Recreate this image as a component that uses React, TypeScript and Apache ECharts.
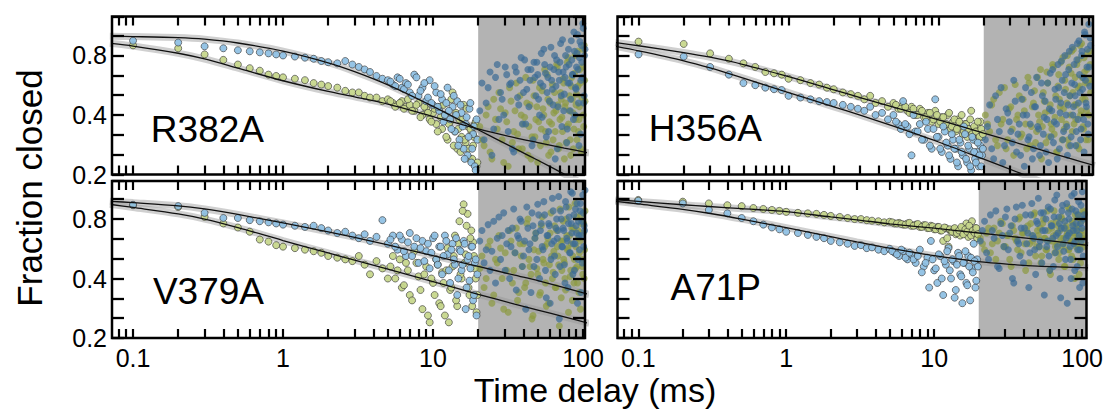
import React, { useEffect, useRef } from 'react';
import * as echarts from 'echarts';

// ---------- data (times in ms, values = fraction closed) ----------
const T_FAST = [0.1, 0.2, 0.3, 0.4, 0.5, 0.6, 0.7, 0.8, 0.9, 1.0, 1.2, 1.4, 1.6, 1.8, 2.0, 2.3, 2.6, 2.9, 3.2, 3.5, 3.8, 4.2, 4.6, 5.0, 5.4, 5.8, 6.2, 6.6, 7.0, 7.5, 8.0, 8.5, 9.0, 9.5, 10, 10.5, 11, 11.5, 12, 12.5, 13, 13.5, 14, 14.5, 15, 15.5, 16, 16.5, 17, 17.5, 18, 18.5, 19, 19.5];
const T_MID = [5.2, 5.6, 6.0, 6.4, 6.8, 7.25, 7.75, 8.25, 8.75, 9.25, 9.75, 10.25, 10.75, 11.25, 11.75, 12.25, 12.75, 13.25, 13.75, 14.25, 14.75, 15.25, 15.75, 16.25, 16.75, 17.25, 17.75, 18.25, 18.75, 19.25, 19.75];
const T_SLOW = [20.5, 21.9, 23.3, 24.7, 26.1, 27.5, 28.9, 30.3, 31.7, 33.1, 34.5, 35.9, 37.3, 38.7, 40.1, 41.5, 42.9, 44.3, 45.7, 47.1, 48.5, 49.9, 51.3, 52.7, 54.1, 55.5, 56.9, 58.3, 59.7, 61.1, 62.5, 63.9, 65.3, 66.7, 68.1, 69.5, 70.9, 72.3, 73.7, 75.1, 76.5, 77.9, 79.3, 80.7, 82.1, 83.5, 84.9, 86.3, 87.7, 89.1, 90.5, 91.9, 93.3, 94.7, 96.1, 97.5, 98.9, 100.3, 101.7, 103.1];
const T_SLOW2 = [21.2, 22.6, 24.0, 25.4, 26.8, 28.2, 29.6, 31.0, 32.4, 33.8, 35.2, 36.6, 38.0, 39.4, 40.8, 42.2, 43.6, 45.0, 46.4, 47.8, 49.2, 50.6, 52.0, 53.4, 54.8, 56.2, 57.6, 59.0, 60.4, 61.8, 63.2, 64.6, 66.0, 67.4, 68.8, 70.2, 71.6, 73.0, 74.4, 75.8, 77.2, 78.6, 80.0, 81.4, 82.8, 84.2, 85.6, 87.0, 88.4, 89.8, 91.2, 92.6, 94.0, 95.4, 96.8, 98.2, 99.6, 101.0, 102.4];
const FIT_T = [0.07, 0.1, 0.2, 0.3, 0.5, 1, 2, 3, 5, 10, 20, 35, 50, 75, 110];

const X_MAJOR = [0.1, 1, 10, 100];
const X_TICKS = [0.08, 0.09, 0.1, 0.2, 0.3, 0.4, 0.5, 0.6, 0.7, 0.8, 0.9, 1, 2, 3, 4, 5, 6, 7, 8, 9, 10, 20, 30, 40, 50, 60, 70, 80, 90, 100];
const SHADE_FROM = 20;
const PANEL_NAMES = ['R382A', 'H356A', 'V379A', 'A71P'];

// R382A
const R382A_BLUE = [0.95, 0.93, 0.89, 0.87, 0.85, 0.84, 0.83, 0.82, 0.81, 0.80, 0.79, 0.78, 0.77, 0.75, 0.74, 0.73, 0.75, 0.72, 0.70, 0.68, 0.66, 0.63, 0.61, 0.60, 0.57, 0.62, 0.55, 0.58, 0.52, 0.64, 0.50, 0.55, 0.47, 0.60, 0.45, 0.52, 0.42, 0.48, 0.40, 0.55, 0.38, 0.44, 0.33, 0.47, 0.30, 0.41, 0.27, 0.36, 0.25, 0.43, 0.23, 0.32, 0.22, 0.38];
const R382A_GREEN = [0.90, 0.87, 0.81, 0.76, 0.72, 0.69, 0.67, 0.64, 0.63, 0.62, 0.61, 0.60, 0.58, 0.57, 0.56, 0.55, 0.53, 0.52, 0.52, 0.50, 0.49, 0.49, 0.47, 0.48, 0.46, 0.45, 0.47, 0.44, 0.45, 0.42, 0.46, 0.40, 0.43, 0.38, 0.41, 0.36, 0.44, 0.34, 0.40, 0.30, 0.37, 0.52, 0.33, 0.27, 0.38, 0.31, 0.45, 0.29, 0.35, 0.24, 0.33, 0.28, 0.36, 0.22];
const R382A_BLUE_MID = [0.59, 0.56, 0.61, 0.54, 0.57, 0.50, 0.62, 0.53, 0.58, 0.49, 0.46, 0.56, 0.44, 0.51, 0.37, 0.46, 0.42, 0.34, 0.50, 0.40, 0.28, 0.45, 0.35, 0.24, 0.39, 0.31, 0.46, 0.27, 0.35, 0.21, 0.30];
const R382A_GREEN_MID = [0.47, 0.44, 0.46, 0.43, 0.48, 0.42, 0.45, 0.39, 0.44, 0.41, 0.37, 0.43, 0.33, 0.39, 0.45, 0.31, 0.36, 0.48, 0.28, 0.41, 0.34, 0.26, 0.38, 0.30, 0.43, 0.27, 0.34, 0.24, 0.31, 0.37, 0.23];
const R382A_BLUE_LATE = [0.42, 0.30, 0.55, 0.25, 0.62, 0.38, 0.48, 0.70, 0.33, 0.58, 0.26, 0.66, 0.45, 0.78, 0.52, 0.36, 0.68, 0.60, 0.28, 0.74, 0.50, 0.64, 0.40, 0.82, 0.56, 0.72, 0.31, 0.62, 0.47, 0.88, 0.54, 0.68, 0.24, 0.76, 0.44, 0.60, 0.92, 0.35, 0.66, 0.51, 0.80, 0.29, 0.58, 0.72, 0.42, 0.95, 0.64, 0.38, 0.84, 0.55, 0.70, 1.02, 0.46, 0.78, 0.32, 0.90, 0.62, 1.10, 0.50, 0.86];
const R382A_GREEN_LATE = [0.35, 0.28, 0.44, 0.24, 0.38, 0.52, 0.30, 0.41, 0.22, 0.47, 0.33, 0.58, 0.27, 0.40, 0.36, 0.62, 0.25, 0.45, 0.31, 0.50, 0.38, 0.23, 0.55, 0.34, 0.43, 0.68, 0.29, 0.48, 0.37, 0.26, 0.57, 0.41, 0.33, 0.72, 0.45, 0.28, 0.52, 0.39, 0.61, 0.24, 0.46, 0.35, 0.78, 0.42, 0.30, 0.56, 0.48, 0.27, 0.65, 0.38, 0.51, 0.84, 0.33, 0.44, 0.58, 0.26, 0.70, 0.40, 0.90, 0.47];
const R382A_BLUE_LATE2 = [0.58, 0.46, 0.66, 0.34, 0.72, 0.52, 0.40, 0.64, 0.57, 0.27, 0.70, 0.49, 0.60, 0.36, 0.76, 0.54, 0.44, 0.68, 0.30, 0.62, 0.74, 0.48, 0.58, 0.39, 0.86, 0.65, 0.52, 0.33, 0.70, 0.60, 0.45, 0.80, 0.56, 0.27, 0.66, 0.74, 0.50, 0.96, 0.42, 0.62, 0.70, 0.34, 0.86, 0.58, 0.48, 0.76, 0.64, 1.05, 0.40, 0.54, 0.82, 0.68, 0.28, 0.94, 0.60, 0.74, 1.16, 0.46, 0.80];
const R382A_GREEN_LATE2 = [0.30, 0.40, 0.26, 0.48, 0.34, 0.43, 0.23, 0.37, 0.55, 0.29, 0.42, 0.32, 0.50, 0.27, 0.39, 0.46, 0.35, 0.24, 0.60, 0.31, 0.44, 0.37, 0.28, 0.53, 0.40, 0.33, 0.64, 0.25, 0.46, 0.36, 0.30, 0.52, 0.42, 0.70, 0.27, 0.38, 0.48, 0.33, 0.58, 0.44, 0.29, 0.74, 0.36, 0.50, 0.25, 0.62, 0.41, 0.34, 0.80, 0.45, 0.30, 0.56, 0.38, 0.68, 0.27, 0.49, 0.86, 0.35, 0.60];
const R382A_BLUE_FIT = [1.0, 0.997, 0.986, 0.968, 0.925, 0.842, 0.735, 0.663, 0.568, 0.442, 0.337, 0.271, 0.236, 0.201, 0.173];
const R382A_GREEN_FIT = [0.922, 0.893, 0.821, 0.768, 0.69, 0.596, 0.526, 0.494, 0.454, 0.393, 0.340, 0.307, 0.290, 0.272, 0.257];

// H356A
const H356A_BLUE = [0.81, 0.79, 0.70, 0.64, 0.58, 0.566, 0.55, 0.54, 0.535, 0.50, 0.49, 0.48, 0.47, 0.465, 0.46, 0.45, 0.44, 0.43, 0.42, 0.44, 0.40, 0.41, 0.38, 0.40, 0.36, 0.47, 0.35, 0.25, 0.33, 0.36, 0.30, 0.34, 0.27, 0.48, 0.31, 0.26, 0.33, 0.28, 0.24, 0.30, 0.27, 0.22, 0.29, 0.25, 0.32, 0.23, 0.27, 0.21, 0.30, 0.24, 0.26, 0.22, 0.28, 0.25];
const H356A_GREEN = [0.94, 0.915, 0.82, 0.77, 0.73, 0.70, 0.66, 0.65, 0.64, 0.61, 0.60, 0.58, 0.57, 0.55, 0.54, 0.52, 0.51, 0.50, 0.48, 0.50, 0.46, 0.47, 0.44, 0.46, 0.43, 0.45, 0.42, 0.44, 0.40, 0.43, 0.39, 0.41, 0.37, 0.42, 0.36, 0.39, 0.35, 0.40, 0.34, 0.37, 0.33, 0.38, 0.35, 0.32, 0.36, 0.31, 0.34, 0.42, 0.33, 0.30, 0.35, 0.32, 0.37, 0.31];
const H356A_BLUE_MID = [0.37, 0.34, 0.36, 0.32, 0.40, 0.33, 0.30, 0.37, 0.28, 0.34, 0.31, 0.27, 0.35, 0.29, 0.25, 0.32, 0.27, 0.23, 0.30, 0.26, 0.35, 0.24, 0.28, 0.22, 0.31, 0.26, 0.23, 0.29, 0.25, 0.22, 0.27];
const H356A_GREEN_MID = [0.45, 0.43, 0.44, 0.41, 0.43, 0.40, 0.42, 0.39, 0.41, 0.38, 0.40, 0.37, 0.39, 0.36, 0.41, 0.35, 0.38, 0.34, 0.37, 0.40, 0.33, 0.36, 0.34, 0.38, 0.32, 0.35, 0.33, 0.37, 0.31, 0.34, 0.32];
const H356A_BLUE_LATE = [0.30, 0.45, 0.24, 0.38, 0.55, 0.28, 0.41, 0.33, 0.60, 0.26, 0.36, 0.48, 0.22, 0.40, 0.31, 0.52, 0.27, 0.44, 0.35, 0.25, 0.58, 0.32, 0.47, 0.38, 0.23, 0.65, 0.42, 0.29, 0.54, 0.36, 0.72, 0.27, 0.46, 0.60, 0.33, 0.80, 0.40, 0.25, 0.68, 0.50, 0.31, 0.88, 0.44, 0.57, 0.28, 0.76, 0.38, 0.95, 0.52, 0.34, 0.84, 0.62, 0.26, 1.02, 0.46, 0.70, 0.36, 1.15, 0.56, 0.90];
const H356A_GREEN_LATE = [0.40, 0.33, 0.48, 0.28, 0.36, 0.55, 0.30, 0.44, 0.25, 0.38, 0.50, 0.32, 0.42, 0.27, 0.58, 0.35, 0.46, 0.29, 0.62, 0.37, 0.24, 0.52, 0.41, 0.66, 0.31, 0.45, 0.34, 0.70, 0.39, 0.26, 0.56, 0.48, 0.74, 0.30, 0.43, 0.60, 0.36, 0.80, 0.28, 0.50, 0.65, 0.33, 0.86, 0.45, 0.38, 0.72, 0.55, 0.27, 0.90, 0.42, 0.62, 0.35, 0.78, 0.48, 0.30, 0.68, 0.58, 0.40, 0.84, 0.52];
const H356A_BLUE_LATE2 = [0.35, 0.27, 0.50, 0.33, 0.23, 0.43, 0.37, 0.29, 0.47, 0.32, 0.25, 0.40, 0.55, 0.30, 0.36, 0.24, 0.44, 0.62, 0.34, 0.28, 0.50, 0.39, 0.26, 0.58, 0.43, 0.31, 0.68, 0.37, 0.48, 0.24, 0.55, 0.41, 0.75, 0.30, 0.52, 0.64, 0.35, 0.45, 0.84, 0.28, 0.58, 0.40, 0.72, 0.50, 0.33, 0.92, 0.46, 0.64, 0.30, 0.80, 0.54, 0.38, 1.05, 0.60, 0.44, 0.86, 0.32, 0.70, 0.98];
const H356A_GREEN_LATE2 = [0.36, 0.45, 0.30, 0.52, 0.38, 0.27, 0.43, 0.34, 0.57, 0.40, 0.31, 0.48, 0.36, 0.62, 0.28, 0.44, 0.53, 0.33, 0.40, 0.68, 0.35, 0.47, 0.29, 0.58, 0.42, 0.36, 0.72, 0.32, 0.50, 0.26, 0.64, 0.44, 0.38, 0.78, 0.34, 0.54, 0.46, 0.30, 0.70, 0.40, 0.84, 0.52, 0.36, 0.62, 0.45, 0.28, 0.76, 0.56, 0.40, 0.92, 0.48, 0.34, 0.66, 0.58, 0.42, 0.82, 0.30, 0.60, 0.72];
const H356A_BLUE_FIT = [0.89, 0.844, 0.752, 0.692, 0.614, 0.519, 0.44, 0.399, 0.351, 0.292, 0.239, 0.203, 0.182, 0.161, 0.144];
const H356A_GREEN_FIT = [0.93, 0.896, 0.828, 0.784, 0.72, 0.625, 0.536, 0.49, 0.439, 0.378, 0.324, 0.286, 0.264, 0.241, 0.222];

// V379A
const V379A_BLUE = [0.945, 0.93, 0.86, 0.81, 0.81, 0.79, 0.78, 0.77, 0.76, 0.75, 0.74, 0.73, 0.74, 0.72, 0.70, 0.68, 0.69, 0.66, 0.64, 0.67, 0.62, 0.65, 0.79, 0.60, 0.66, 0.56, 0.63, 0.52, 0.68, 0.58, 0.48, 0.62, 0.55, 0.45, 0.64, 0.50, 0.58, 0.42, 0.66, 0.53, 0.38, 0.60, 0.47, 0.33, 0.56, 0.44, 0.62, 0.28, 0.50, 0.39, 0.58, 0.31, 0.48, 0.26];
const V379A_GREEN = [0.94, 0.92, 0.82, 0.76, 0.725, 0.69, 0.63, 0.615, 0.59, 0.58, 0.57, 0.56, 0.55, 0.54, 0.52, 0.51, 0.50, 0.49, 0.52, 0.47, 0.42, 0.49, 0.45, 0.40, 0.52, 0.44, 0.36, 0.48, 0.33, 0.55, 0.41, 0.28, 0.46, 0.24, 0.38, 0.50, 0.30, 0.43, 0.26, 0.57, 0.35, 0.46, 0.66, 0.29, 0.78, 0.40, 0.95, 0.53, 0.85, 0.33, 0.70, 0.61, 0.45, 0.27];
const V379A_BLUE_MID = [0.63, 0.58, 0.66, 0.55, 0.61, 0.52, 0.64, 0.57, 0.49, 0.60, 0.54, 0.66, 0.47, 0.58, 0.52, 0.62, 0.44, 0.56, 0.50, 0.64, 0.40, 0.55, 0.47, 0.60, 0.36, 0.52, 0.45, 0.58, 0.33, 0.50, 0.42];
const V379A_GREEN_MID = [0.46, 0.40, 0.50, 0.37, 0.44, 0.31, 0.48, 0.35, 0.42, 0.26, 0.40, 0.33, 0.47, 0.29, 0.38, 0.44, 0.24, 0.36, 0.52, 0.31, 0.60, 0.42, 0.88, 0.48, 0.74, 0.36, 0.64, 0.29, 0.52, 0.40, 0.33];
const V379A_BLUE_LATE = [0.62, 0.48, 0.75, 0.55, 0.38, 0.82, 0.66, 0.44, 0.70, 0.58, 0.90, 0.35, 0.64, 0.78, 0.52, 0.28, 0.72, 0.60, 0.86, 0.46, 0.68, 0.95, 0.40, 0.76, 0.56, 0.84, 0.32, 0.66, 0.74, 0.50, 1.02, 0.62, 0.42, 0.80, 0.70, 0.25, 0.88, 0.58, 0.72, 0.47, 0.98, 0.64, 0.36, 0.82, 0.54, 0.76, 1.08, 0.60, 0.44, 0.90, 0.68, 0.30, 0.78, 0.56, 0.96, 0.66, 0.48, 0.86, 0.74, 1.12];
const V379A_GREEN_LATE = [0.45, 0.36, 0.58, 0.30, 0.50, 0.66, 0.40, 0.54, 0.27, 0.62, 0.44, 0.72, 0.34, 0.52, 0.60, 0.38, 0.80, 0.46, 0.25, 0.56, 0.68, 0.42, 0.33, 0.74, 0.50, 0.58, 0.29, 0.64, 0.47, 0.86, 0.40, 0.55, 0.36, 0.70, 0.52, 0.23, 0.62, 0.44, 0.78, 0.48, 0.35, 0.66, 0.57, 0.92, 0.41, 0.60, 0.31, 0.72, 0.50, 0.45, 0.82, 0.38, 0.64, 0.54, 0.28, 0.76, 0.46, 0.68, 0.40, 0.88];
const V379A_BLUE_LATE2 = [0.70, 0.56, 0.44, 0.78, 0.64, 0.50, 0.86, 0.60, 0.40, 0.72, 0.54, 0.66, 0.80, 0.46, 0.62, 0.92, 0.56, 0.34, 0.74, 0.64, 0.50, 0.84, 0.70, 0.58, 0.98, 0.44, 0.66, 0.76, 0.30, 0.60, 0.88, 0.52, 0.72, 0.64, 1.04, 0.46, 0.80, 0.58, 0.70, 0.38, 0.92, 0.62, 0.76, 0.54, 1.10, 0.68, 0.42, 0.84, 0.60, 0.74, 0.96, 0.50, 0.66, 0.88, 0.34, 0.78, 1.06, 0.58, 0.70];
const V379A_GREEN_LATE2 = [0.52, 0.40, 0.62, 0.33, 0.48, 0.57, 0.28, 0.44, 0.70, 0.38, 0.54, 0.31, 0.60, 0.46, 0.36, 0.76, 0.50, 0.42, 0.26, 0.64, 0.45, 0.55, 0.34, 0.82, 0.48, 0.38, 0.60, 0.30, 0.68, 0.52, 0.43, 0.74, 0.36, 0.58, 0.47, 0.90, 0.32, 0.62, 0.50, 0.40, 0.80, 0.56, 0.27, 0.66, 0.44, 0.72, 0.52, 0.38, 0.96, 0.58, 0.46, 0.70, 0.34, 0.62, 0.84, 0.50, 0.42, 0.76, 0.56];
const V379A_BLUE_FIT = [0.985, 0.969, 0.934, 0.9, 0.844, 0.765, 0.689, 0.646, 0.592, 0.522, 0.461, 0.416, 0.39, 0.36, 0.332];
const V379A_GREEN_FIT = [0.95, 0.916, 0.85, 0.8, 0.724, 0.623, 0.539, 0.496, 0.446, 0.386, 0.333, 0.297, 0.277, 0.256, 0.237];

// A71P
const A71P_BLUE = [0.99, 0.96, 0.89, 0.855, 0.81, 0.78, 0.75, 0.725, 0.71, 0.69, 0.68, 0.665, 0.65, 0.64, 0.62, 0.61, 0.60, 0.585, 0.59, 0.57, 0.575, 0.56, 0.55, 0.565, 0.54, 0.52, 0.55, 0.50, 0.53, 0.48, 0.56, 0.46, 0.51, 0.62, 0.44, 0.38, 0.52, 0.33, 0.47, 0.57, 0.40, 0.49, 0.35, 0.54, 0.42, 0.30, 0.48, 0.38, 0.52, 0.31, 0.45, 0.60, 0.36, 0.50];
const A71P_GREEN = [1.0, 0.98, 0.96, 0.94, 0.93, 0.91, 0.90, 0.89, 0.88, 0.87, 0.86, 0.855, 0.85, 0.84, 0.83, 0.82, 0.81, 0.80, 0.80, 0.79, 0.785, 0.78, 0.77, 0.775, 0.76, 0.765, 0.75, 0.76, 0.74, 0.75, 0.73, 0.745, 0.72, 0.74, 0.71, 0.73, 0.70, 0.62, 0.72, 0.58, 0.69, 0.71, 0.67, 0.70, 0.66, 0.72, 0.68, 0.76, 0.65, 0.70, 0.78, 0.67, 0.72, 0.64];
const A71P_BLUE_MID = [0.55, 0.53, 0.56, 0.51, 0.54, 0.50, 0.52, 0.43, 0.48, 0.36, 0.50, 0.45, 0.53, 0.40, 0.49, 0.55, 0.44, 0.50, 0.32, 0.47, 0.52, 0.41, 0.48, 0.55, 0.37, 0.46, 0.51, 0.43, 0.49, 0.39, 0.46];
const A71P_GREEN_MID = [0.77, 0.76, 0.755, 0.75, 0.765, 0.74, 0.755, 0.73, 0.745, 0.72, 0.735, 0.71, 0.73, 0.70, 0.725, 0.64, 0.71, 0.69, 0.72, 0.68, 0.70, 0.73, 0.67, 0.71, 0.69, 0.74, 0.66, 0.70, 0.68, 0.72, 0.67];
const A71P_BLUE_LATE = [0.62, 0.78, 0.50, 0.70, 0.88, 0.45, 0.66, 0.82, 0.56, 0.74, 0.38, 0.92, 0.60, 0.72, 0.48, 0.84, 0.68, 0.54, 0.96, 0.64, 0.42, 0.76, 0.58, 0.86, 0.70, 0.33, 0.80, 0.62, 0.52, 0.90, 0.74, 0.46, 1.00, 0.66, 0.58, 0.82, 0.40, 0.72, 0.94, 0.55, 0.78, 0.64, 0.30, 0.86, 0.68, 0.50, 1.05, 0.74, 0.60, 0.44, 0.88, 0.70, 0.56, 0.98, 0.36, 0.76, 0.62, 1.10, 0.52, 0.84];
const A71P_GREEN_LATE = [0.64, 0.56, 0.72, 0.60, 0.50, 0.68, 0.76, 0.58, 0.66, 0.46, 0.70, 0.62, 0.80, 0.54, 0.68, 0.44, 0.74, 0.60, 0.66, 0.84, 0.52, 0.70, 0.58, 0.48, 0.76, 0.64, 0.56, 0.88, 0.62, 0.42, 0.72, 0.66, 0.54, 0.78, 0.60, 0.50, 0.70, 0.82, 0.58, 0.64, 0.46, 0.74, 0.68, 0.56, 0.90, 0.62, 0.52, 0.76, 0.66, 0.40, 0.72, 0.60, 0.84, 0.56, 0.68, 0.48, 0.78, 0.64, 0.58, 0.86];
const A71P_BLUE_LATE2 = [0.70, 0.54, 0.84, 0.64, 0.46, 0.76, 0.58, 0.90, 0.68, 0.40, 0.80, 0.62, 0.52, 0.94, 0.72, 0.60, 0.36, 0.84, 0.66, 0.56, 0.78, 1.02, 0.62, 0.48, 0.86, 0.70, 0.58, 0.92, 0.44, 0.74, 0.64, 0.82, 0.54, 1.06, 0.68, 0.76, 0.32, 0.88, 0.60, 0.72, 0.50, 0.96, 0.66, 0.80, 0.58, 0.40, 0.90, 0.70, 1.08, 0.62, 0.76, 0.46, 0.84, 0.66, 0.56, 0.94, 0.72, 0.38, 0.80];
const A71P_GREEN_LATE2 = [0.60, 0.68, 0.54, 0.72, 0.62, 0.78, 0.58, 0.66, 0.50, 0.74, 0.64, 0.56, 0.82, 0.68, 0.60, 0.70, 0.48, 0.76, 0.62, 0.86, 0.58, 0.66, 0.72, 0.52, 0.80, 0.64, 0.56, 0.70, 0.44, 0.76, 0.62, 0.88, 0.58, 0.68, 0.74, 0.54, 0.64, 0.80, 0.60, 0.46, 0.72, 0.66, 0.92, 0.56, 0.70, 0.62, 0.78, 0.50, 0.68, 0.84, 0.58, 0.74, 0.64, 0.42, 0.80, 0.60, 0.70, 0.88, 0.66];
const A71P_BLUE_FIT = [0.985, 0.954, 0.896, 0.856, 0.80, 0.724, 0.652, 0.613, 0.57, 0.522, 0.487, 0.47, 0.462, 0.457, 0.453];
const A71P_GREEN_FIT = [1.0, 0.983, 0.945, 0.926, 0.903, 0.872, 0.82, 0.793, 0.757, 0.719, 0.68, 0.65, 0.631, 0.609, 0.588];

const PANELS = [
  { blue: R382A_BLUE, green: R382A_GREEN, blueMid: R382A_BLUE_MID, greenMid: R382A_GREEN_MID, blueLate: R382A_BLUE_LATE, greenLate: R382A_GREEN_LATE, blueLate2: R382A_BLUE_LATE2, greenLate2: R382A_GREEN_LATE2, blueFit: R382A_BLUE_FIT, greenFit: R382A_GREEN_FIT },
  { blue: H356A_BLUE, green: H356A_GREEN, blueMid: H356A_BLUE_MID, greenMid: H356A_GREEN_MID, blueLate: H356A_BLUE_LATE, greenLate: H356A_GREEN_LATE, blueLate2: H356A_BLUE_LATE2, greenLate2: H356A_GREEN_LATE2, blueFit: H356A_BLUE_FIT, greenFit: H356A_GREEN_FIT },
  { blue: V379A_BLUE, green: V379A_GREEN, blueMid: V379A_BLUE_MID, greenMid: V379A_GREEN_MID, blueLate: V379A_BLUE_LATE, greenLate: V379A_GREEN_LATE, blueLate2: V379A_BLUE_LATE2, greenLate2: V379A_GREEN_LATE2, blueFit: V379A_BLUE_FIT, greenFit: V379A_GREEN_FIT },
  { blue: A71P_BLUE, green: A71P_GREEN, blueMid: A71P_BLUE_MID, greenMid: A71P_GREEN_MID, blueLate: A71P_BLUE_LATE, greenLate: A71P_GREEN_LATE, blueLate2: A71P_BLUE_LATE2, greenLate2: A71P_GREEN_LATE2, blueFit: A71P_BLUE_FIT, greenFit: A71P_GREEN_FIT },
];

// ---------- layout / style ----------
const FONT = "'Liberation Sans', Arial, Helvetica, sans-serif";
const GRIDS = [
  { left: 112, top: 16.5, width: 473, height: 158 },
  { left: 617.5, top: 16.5, width: 475.5, height: 158 },
  { left: 112, top: 181, width: 473, height: 157 },
  { left: 617.5, top: 181, width: 475.5, height: 157 },
];
const X_MIN = Math.log10(0.0724);
const X_MAX = [Math.log10(103.1), Math.log10(107), Math.log10(103.1), Math.log10(107)];
const Y_MAX = [2.655, 2.655, 2.64, 2.64];
const LABEL_POS = [
  { x: 264, y: 129 },
  { x: 762, y: 128 },
  { x: 264, y: 291 },
  { x: 761, y: 287 },
];

const lx = (t: number) => Math.log10(t);
const ly = (v: number) => Math.log2(v / 0.2);
const pts = (ts: number[], vs: number[]) => ts.map((t, i) => [lx(t), ly(vs[i])]);

function buildOption() {
  const xAxis: any[] = [];
  const yAxis: any[] = [];
  const series: any[] = [];

  const xFmt = (v: number) => {
    const t = Math.pow(10, v);
    return t < 1 ? t.toFixed(1) : String(Math.round(t));
  };
  const yFmt = (v: number) => {
    const k = Math.round(v);
    if (Math.abs(v - k) > 1e-6) return '';
    return (0.2 * Math.pow(2, k)).toFixed(1);
  };

  GRIDS.forEach((_, g) => {
    const xBase = {
      type: 'value', gridIndex: g, min: X_MIN, max: X_MAX[g], z: 10,
      axisLine: { show: false, onZero: false },
      splitLine: { show: false },
      axisTick: { show: true, inside: true, length: 9, lineStyle: { color: '#000', width: 2.2 }, customValues: X_TICKS.map(lx) },
    };
    xAxis.push({
      ...xBase, position: 'bottom',
      axisLabel: { show: g >= 2, customValues: X_MAJOR.map(lx), formatter: xFmt, fontSize: 25, fontFamily: FONT, color: '#000', margin: 7 },
    });
    xAxis.push({ ...xBase, position: 'top', axisLabel: { show: false } });
    const yBase = {
      type: 'value', gridIndex: g, min: 0, max: Y_MAX[g], interval: 1 / 3, z: 10,
      axisLine: { show: false, onZero: false },
      splitLine: { show: false },
      axisTick: { show: true, inside: true, length: 12, lineStyle: { color: '#000', width: 2.3 } },
    };
    yAxis.push({
      ...yBase, position: 'left',
      axisLabel: { show: g % 2 === 0, formatter: yFmt, fontSize: 25, fontFamily: FONT, color: '#000', margin: 5 },
    });
    yAxis.push({ ...yBase, position: 'right', axisLabel: { show: false } });

    const P = PANELS[g];
    const xi = 2 * g;
    const yi = 2 * g;

    series.push({
      type: 'custom', xAxisIndex: xi, yAxisIndex: yi, z: 1, silent: true,
      data: [[lx(SHADE_FROM), 0]],
      renderItem: (_p: any, api: any) => {
        const a = api.coord([api.value(0), Y_MAX[g]]);
        const b = api.coord([X_MAX[g], 0]);
        return { type: 'rect', shape: { x: a[0], y: a[1], width: b[0] - a[0], height: b[1] - a[1] }, style: { fill: '#b3b3b3' } };
      },
    });

    [P.blueFit, P.greenFit].forEach((fit) => {
      series.push({
        type: 'line', xAxisIndex: xi, yAxisIndex: yi, z: 2, silent: true,
        data: pts(FIT_T, fit),
        smooth: 0.3, showSymbol: false, clip: true,
        lineStyle: { width: 7, color: 'rgba(150,150,150,0.45)' },
      });
    });

    const earlyStyle = (c: string) => ({ color: c, borderColor: '#3a3a3a', borderWidth: 0.7, opacity: 0.92 });
    series.push({
      type: 'scatter', xAxisIndex: xi, yAxisIndex: yi, z: 3, symbolSize: 7,
      data: pts(T_FAST, P.green).concat(pts(T_MID, P.greenMid)),
      itemStyle: earlyStyle('#c5d68a'),
    });
    series.push({
      type: 'scatter', xAxisIndex: xi, yAxisIndex: yi, z: 3, symbolSize: 7,
      data: pts(T_FAST, P.blue).concat(pts(T_MID, P.blueMid)),
      itemStyle: earlyStyle('#8dbfe3'),
    });
    series.push({
      type: 'scatter', xAxisIndex: xi, yAxisIndex: yi, z: 3, symbolSize: 7,
      data: pts(T_SLOW, P.greenLate).concat(pts(T_SLOW2, P.greenLate2)),
      itemStyle: { color: '#8c9a40', opacity: 0.7 },
    });
    series.push({
      type: 'scatter', xAxisIndex: xi, yAxisIndex: yi, z: 3, symbolSize: 7,
      data: pts(T_SLOW, P.blueLate).concat(pts(T_SLOW2, P.blueLate2)),
      itemStyle: { color: '#3a6b95', opacity: 0.7 },
    });

    [P.blueFit, P.greenFit].forEach((fit) => {
      series.push({
        type: 'line', xAxisIndex: xi, yAxisIndex: yi, z: 6, silent: true,
        data: pts(FIT_T, fit),
        smooth: 0.3, showSymbol: false, clip: true,
        lineStyle: { width: 1.3, color: '#111' },
      });
    });
  });

  const graphic: any[] = PANEL_NAMES.map((name, g) => ({
    type: 'text', x: LABEL_POS[g].x, y: LABEL_POS[g].y, z: 20,
    style: { text: name, fontSize: 37, fontFamily: FONT, fill: '#000', textAlign: 'right', textVerticalAlign: 'middle' },
  }));
  graphic.push({
    type: 'text', x: 595, y: 390, z: 20,
    style: { text: 'Time delay (ms)', fontSize: 34, fontFamily: FONT, fill: '#000', textAlign: 'center', textVerticalAlign: 'middle' },
  });
  graphic.push({
    type: 'text', x: 29, y: 188, rotation: Math.PI / 2, z: 20,
    style: { text: 'Fraction closed', fontSize: 35, fontFamily: FONT, fill: '#000', textAlign: 'center', textVerticalAlign: 'middle' },
  });

  return {
    animation: false,
    backgroundColor: '#fff',
    textStyle: { fontFamily: FONT },
    grid: GRIDS.map((r) => ({ ...r, show: true, borderColor: '#000', borderWidth: 2.5, backgroundColor: 'transparent', z: 10 })),
    xAxis,
    yAxis,
    series,
    graphic,
  };
}

export default function App() {
  const ref = useRef<HTMLDivElement>(null);
  useEffect(() => {
    if (!ref.current) return;
    const chart = echarts.init(ref.current, null, { renderer: 'svg' });
    chart.setOption(buildOption());
    return () => chart.dispose();
  }, []);
  return <div ref={ref} style={{ position: 'absolute', left: 0, top: 0, width: 1106, height: 411 }} />;
}
